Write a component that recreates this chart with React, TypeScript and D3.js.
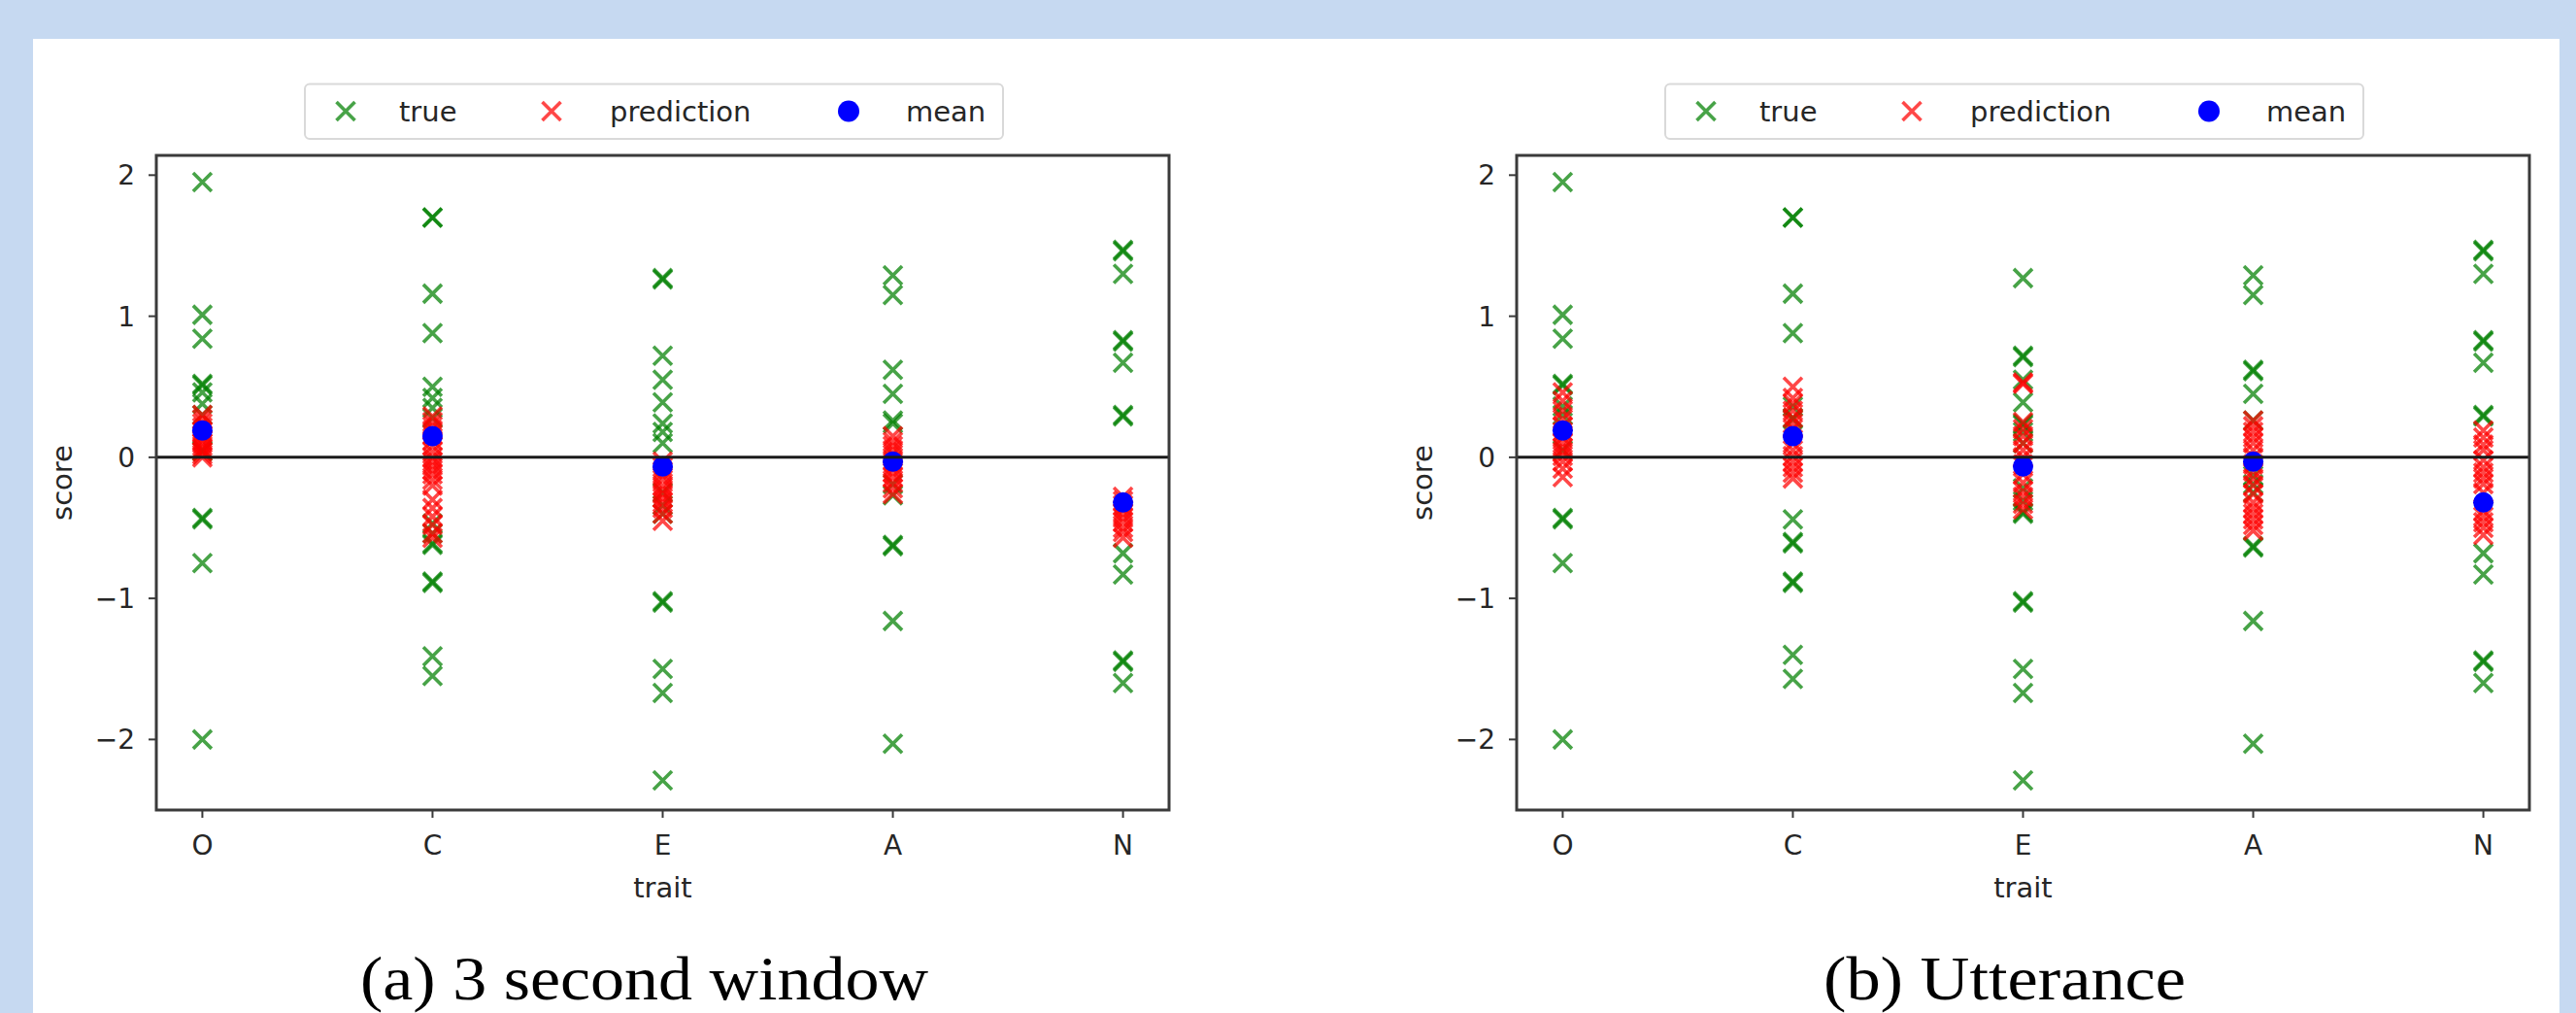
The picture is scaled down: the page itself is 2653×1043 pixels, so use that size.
import React from "react";
import * as d3 from "d3";

const TRAITS = ["O", "C", "E", "A", "N"];
const Y_TICKS = [-2, -1, 0, 1, 2];
const LEGEND_LABELS = ["true", "prediction", "mean"];

// (a) 3 second window
const windowTrue: number[][] = [
  [1.95, 1.01, 0.84, 0.52, 0.51, 0.46, 0.38, 0.3, 0.05, 0.04, -0.43, -0.44, -0.75, -2.0],
  [1.7, 1.7, 1.16, 0.88, 0.5, 0.42, 0.35, 0.28, -0.47, -0.54, -0.61, -0.62, -0.88, -0.89, -1.41, -1.55],
  [1.27, 1.26, 0.72, 0.55, 0.39, 0.24, 0.18, 0.1, -0.25, -0.34, -0.4, -1.02, -1.03, -1.5, -1.67, -2.29],
  [1.29, 1.15, 0.62, 0.45, 0.26, 0.24, -0.19, -0.27, -0.62, -0.63, -1.16, -2.03],
  [1.47, 1.46, 1.3, 0.83, 0.82, 0.67, 0.3, 0.29, -0.68, -0.83, -1.45, -1.44, -1.6],
];
const windowPred: number[][] = [
  [0.3, 0.27, 0.24, 0.21, 0.18, 0.15, 0.12, 0.1, 0.08, 0.06, 0.04, 0.02, 0.0],
  [0.29, 0.25, 0.22, 0.19, 0.16, 0.12, 0.08, 0.04, 0.0, -0.03, -0.06, -0.09, -0.12, -0.16, -0.2, -0.3, -0.36, -0.42, -0.48, -0.54, -0.57],
  [-0.03, -0.07, -0.1, -0.13, -0.16, -0.2, -0.23, -0.26, -0.29, -0.32, -0.36, -0.4, -0.45],
  [0.15, 0.11, 0.08, 0.05, 0.02, -0.02, -0.05, -0.08, -0.11, -0.14, -0.18, -0.22, -0.26],
  [-0.28, -0.31, -0.34, -0.37, -0.4, -0.43, -0.46, -0.5, -0.53, -0.57],
];

// (b) Utterance
const utterTrue: number[][] = [
  [1.95, 1.01, 0.84, 0.52, 0.51, 0.36, 0.3, 0.05, -0.43, -0.44, -0.75, -2.0],
  [1.7, 1.7, 1.16, 0.88, 0.36, 0.28, 0.27, -0.44, -0.6, -0.61, -0.88, -0.89, -1.4, -1.57],
  [1.27, 0.72, 0.71, 0.55, 0.39, 0.24, 0.23, 0.18, 0.1, -0.22, -0.31, -0.39, -0.4, -1.02, -1.03, -1.5, -1.67, -2.29],
  [1.29, 1.15, 0.62, 0.61, 0.45, 0.26, -0.13, -0.19, -0.25, -0.63, -0.64, -1.16, -2.03],
  [1.47, 1.46, 1.3, 0.83, 0.82, 0.67, 0.3, 0.29, -0.68, -0.83, -1.45, -1.44, -1.6],
];
const utterPred: number[][] = [
  [0.46, 0.4, 0.33, 0.27, 0.22, 0.18, 0.14, 0.1, 0.07, 0.04, 0.01, -0.03, -0.08, -0.14],
  [0.5, 0.42, 0.38, 0.33, 0.28, 0.24, 0.2, 0.1, 0.05, 0.01, -0.03, -0.07, -0.11, -0.15],
  [0.53, 0.52, 0.25, 0.2, 0.15, 0.1, 0.05, 0.0, -0.05, -0.12, -0.18, -0.24, -0.28, -0.33, -0.37],
  [0.26, 0.22, 0.18, 0.14, 0.1, 0.05, 0.0, -0.05, -0.1, -0.15, -0.2, -0.26, -0.32, -0.36, -0.4, -0.44, -0.48, -0.52],
  [0.19, 0.14, 0.09, 0.05, -0.02, -0.07, -0.11, -0.15, -0.19, -0.25, -0.38, -0.42, -0.46, -0.5, -0.55],
];

const meanScores = [0.19, 0.15, -0.065, -0.03, -0.32];

const CHART_FONT = "'DejaVu Sans', sans-serif";
const GREEN = "#008000";
const RED = "#ff0000";
const BLUE = "#0000ff";

function Cross({ x, y, color, h = 9.5 }: { x: number; y: number; color: string; h?: number }) {
  return (
    <path
      d={`M${x - h},${y - h}L${x + h},${y + h}M${x - h},${y + h}L${x + h},${y - h}`}
      stroke={color}
      strokeWidth={3.6}
      strokeOpacity={0.72}
      fill="none"
    />
  );
}

function Panel({
  dx,
  title,
  titleLen,
  trueVals,
  predVals,
}: {
  dx: number;
  title: string;
  titleLen: number;
  trueVals: number[][];
  predVals: number[][];
}) {
  const left = 161 + dx;
  const right = 1204 + dx;
  const top = 160;
  const bottom = 834;
  const x = d3.scaleLinear().domain([-0.2, TRAITS.length - 1 + 0.2]).range([left, right]);
  const y = d3.scaleLinear().domain([-2.5, 2.14]).range([bottom, top]);
  const cx = (left + right) / 2;

  const legLeft = 314 + dx;
  const legCy = 114.5;
  const legOffsets = [42, 254, 560];
  const textOffsets = [97, 314, 619];

  return (
    <g fontFamily={CHART_FONT}>
      {/* legend */}
      <rect x={legLeft} y={86.5} width={719} height={56.5} rx={5} fill="#fff" stroke="#d9d9d9" strokeWidth={2} />
      <Cross x={legLeft + legOffsets[0]} y={legCy} color={GREEN} />
      <Cross x={legLeft + legOffsets[1]} y={legCy} color={RED} />
      <circle cx={legLeft + legOffsets[2]} cy={legCy} r={11} fill={BLUE} />
      {LEGEND_LABELS.map((l, i) => (
        <text key={l} x={legLeft + textOffsets[i]} y={legCy + 10} fontSize={29} fill="#262626">
          {l}
        </text>
      ))}

      {/* data */}
      <g>
        {trueVals.map((arr, i) =>
          arr.map((v, j) => <Cross key={`t${i}-${j}`} x={x(i)} y={y(v)} color={GREEN} />)
        )}
        {predVals.map((arr, i) =>
          arr.map((v, j) => <Cross key={`p${i}-${j}`} x={x(i)} y={y(v)} color={RED} />)
        )}
        {meanScores.map((v, i) => (
          <circle key={`m${i}`} cx={x(i)} cy={y(v)} r={10.5} fill={BLUE} />
        ))}
      </g>

      {/* zero line */}
      <line x1={left} x2={right} y1={y(0)} y2={y(0)} stroke="#1a1a1a" strokeWidth={3} />

      {/* axes frame */}
      <rect x={left} y={top} width={right - left} height={bottom - top} fill="none" stroke="#3a3a3a" strokeWidth={3} />

      {/* y ticks */}
      {Y_TICKS.map((t) => (
        <g key={`y${t}`}>
          <line x1={left - 8} x2={left} y1={y(t)} y2={y(t)} stroke="#3a3a3a" strokeWidth={2} />
          <text x={left - 22} y={y(t) + 10} fontSize={28} textAnchor="end" fill="#262626">
            {t < 0 ? `\u2212${Math.abs(t)}` : `${t}`}
          </text>
        </g>
      ))}

      {/* x ticks */}
      {TRAITS.map((c, i) => (
        <g key={`x${c}`}>
          <line x1={x(i)} x2={x(i)} y1={bottom} y2={bottom + 8} stroke="#3a3a3a" strokeWidth={2} />
          <text x={x(i)} y={880} fontSize={28} textAnchor="middle" fill="#262626">
            {c}
          </text>
        </g>
      ))}

      {/* axis labels */}
      <text x={cx} y={924} fontSize={29} textAnchor="middle" fill="#262626">
        trait
      </text>
      <text
        transform={`translate(${left - 87},${(top + bottom) / 2}) rotate(-90)`}
        fontSize={29}
        textAnchor="middle"
        fill="#262626"
      >
        score
      </text>

      {/* caption */}
      <text
        x={663.5 + dx}
        y={1029}
        fontSize={64}
        fontFamily="'Liberation Serif', 'Times New Roman', serif"
        textAnchor="middle"
        fill="#000"
        textLength={titleLen}
        lengthAdjust="spacingAndGlyphs"
      >
        {title}
      </text>
    </g>
  );
}

export default function App() {
  return (
    <div style={{ position: "absolute", left: 0, top: 0 }}>
      <svg width={2653} height={1043} viewBox="0 0 2653 1043" style={{ display: "block" }}>
        <rect x={0} y={0} width={2653} height={1043} fill="#c6d9f1" />
        <rect x={34} y={40} width={2602} height={1003} fill="#ffffff" />
        <Panel dx={0} title="(a)  3 second window" titleLen={585} trueVals={windowTrue} predVals={windowPred} />
        <Panel dx={1401} title="(b)  Utterance" titleLen={373} trueVals={utterTrue} predVals={utterPred} />
      </svg>
    </div>
  );
}
